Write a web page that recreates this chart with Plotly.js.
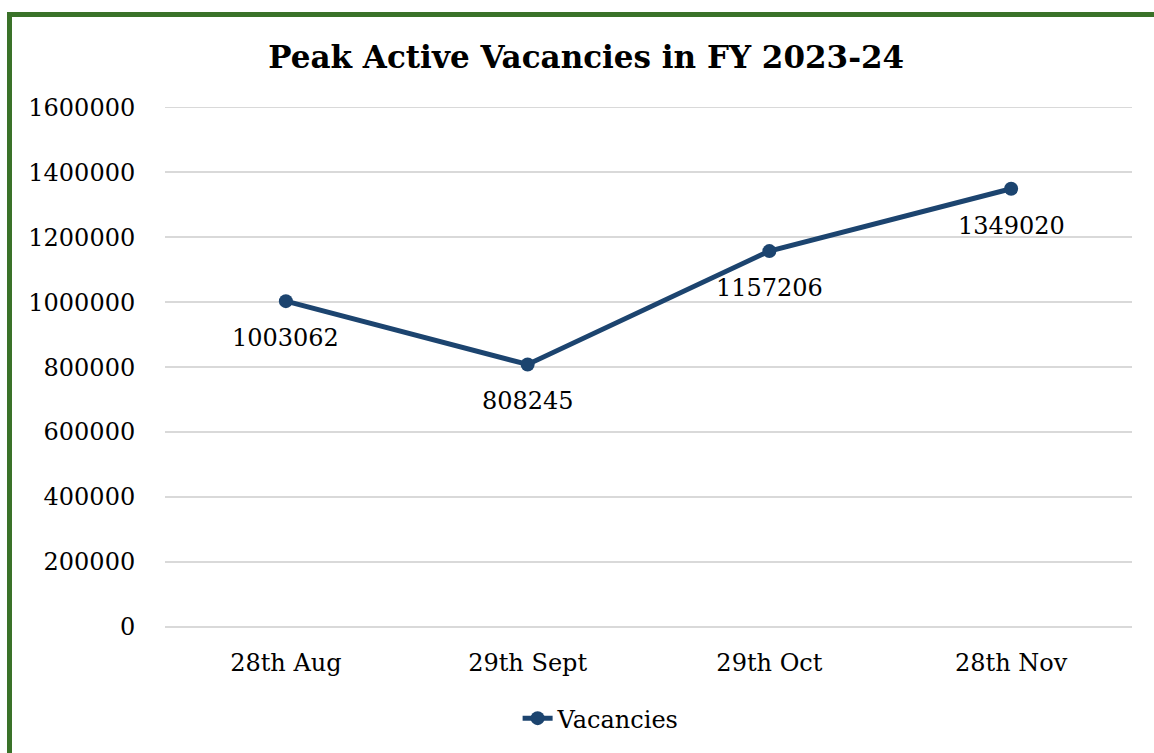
<!DOCTYPE html>
<html>
<head>
<meta charset="utf-8">
<script src="https://cdn.plot.ly/plotly-3.0.1.min.js"></script>
<style>
html,body{margin:0;padding:0;background:#fff;}
#wrap{position:absolute;left:0;top:0;width:1154px;height:753px;overflow:hidden;}
#frame{position:absolute;left:7px;top:12px;width:1200px;height:800px;border-left:5px solid #3a7229;border-top:5px solid #3a7229;box-sizing:border-box;pointer-events:none;z-index:5;}
#chart{position:absolute;left:0;top:0;width:1154px;height:753px;}
</style>
</head>
<body>
<div id="wrap">
<div id="chart"></div>
<div id="frame"></div>
</div>
<script>
const categories = ["28th Aug", "29th Sept", "29th Oct", "28th Nov"];
const vacancies = [1003062, 808245, 1157206, 1349020];
const seriesName = "Vacancies";
const chartTitle = "Peak Active Vacancies in FY 2023-24";

const FONT = "DejaVu Serif, Georgia, serif";
const lineColor = "#1c446f";

const trace = {
  x: categories,
  y: vacancies,
  type: "scatter",
  mode: "lines+markers",
  name: seriesName,
  line: {color: lineColor, width: 5},
  marker: {color: lineColor, size: 14},
  hoverinfo: "skip"
};

const annotations = categories.map((c, i) => ({
  x: c, y: vacancies[i], xref: "x", yref: "y",
  text: String(vacancies[i]),
  showarrow: false, yshift: -37,
  font: {family: FONT, size: 24, color: "#000"}
}));

const layout = {
  width: 1154, height: 753,
  margin: {l: 165, r: 22, t: 104, b: 126},
  paper_bgcolor: "#fff", plot_bgcolor: "#fff",
  font: {family: FONT, size: 24, color: "#000"},
  title: {text: "<b>" + chartTitle + "</b>", x: 0.508, xanchor: "center", y: 0.924, yanchor: "middle",
          font: {family: FONT, size: 31, color: "#000"}},
  xaxis: {type: "category", range: [-0.5, 3.5], showgrid: false, zeroline: false, showline: false,
          ticks: "outside", ticklen: 14, tickcolor: "rgba(0,0,0,0)",
          tickfont: {family: FONT, size: 24, color: "#000"}, fixedrange: true},
  yaxis: {range: [0, 1610000], dtick: 200000, tick0: 0, showgrid: true, gridcolor: "#d9d9d9", gridwidth: 1.5,
          zeroline: true, zerolinecolor: "#d9d9d9", zerolinewidth: 1.5, showline: false,
          ticks: "outside", ticklen: 24, tickcolor: "rgba(0,0,0,0)", tickformat: "d",
          tickfont: {family: FONT, size: 24, color: "#000"}, fixedrange: true},
  showlegend: true,
  legend: {orientation: "h", x: 0.451, xanchor: "center", y: -0.175, yanchor: "middle",
           font: {family: FONT, size: 24, color: "#000"}},
  annotations: annotations
};

Plotly.newPlot("chart", [trace], layout, {displayModeBar: false, staticPlot: true});
</script>
</body>
</html>
